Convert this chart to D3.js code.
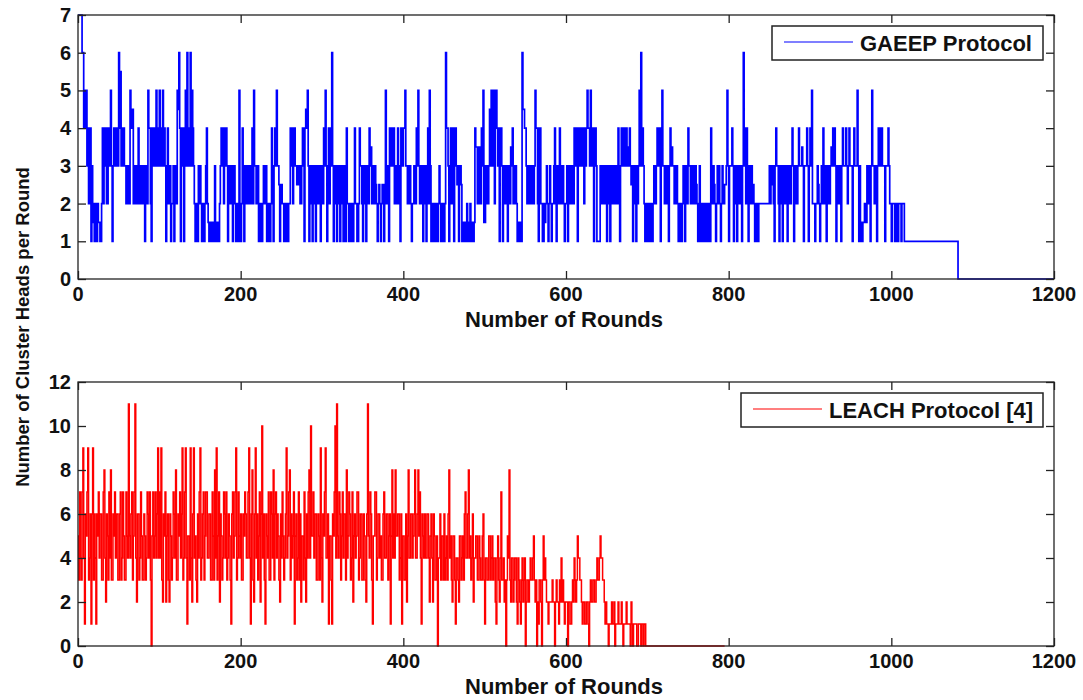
<!DOCTYPE html>
<html>
<head>
<meta charset="utf-8">
<script src="https://cdn.jsdelivr.net/npm/d3@7"></script>
<style>
  html, body { margin: 0; padding: 0; background: #fff; }
  svg text { font-family: "Liberation Sans", Arial, sans-serif; font-weight: bold; fill: #111; }
</style>
</head>
<body>
<svg id="chart" width="1083" height="700"></svg>
<script>
// Cluster heads per round. Each protocol is stored as two arrays:
// the even rounds (0, 2, 4, ...) and the odd rounds (1, 3, 5, ...).

// GAEEP protocol, rounds 0 .. 1015
const gaeepEvenRounds = [
  7,7,7,6,4,5,4,2,1,2,1,1.5,2,1.5,1,4,3,4,2,3,5,1,4,3,4,
  6,5.5,3,4,3,2,3,5,4,2,3,2,4,3,2,3,1,3,5,4,1,4,3,5,4,
  5,3,5,4,1,4,2,1,2,1,3,5,6,1,4,1,5,6,3,6,5,3,1,2,3,
  3,1,2,2,4,1.5,1,1.5,1,3,1,1.5,2,4,4,3,4,1,3,2,1,3,1,2,5,
  1,4,1,2,3,2,3,4,5,3,2,1,2,1,3,2,1,2,1,4,1,4,5,3,1,
  2.5,2,1,2,1,2,4,2,4,3,2.5,3,2,4,1,4.5,5,1,3,1,3,1,3,2,1,
  3,4,5,1,4,4,6,1,3,1,2,1,3,1,2,4,2,1,2,1,4,2,1,4,3,
  1,3,1,3,4,3.5,3,2,2.5,1,2.5,1,2.5,1,5,2,1,3,4,4,3,2,3,1,4,
  4,5,3,2,3,1,2,3,4,5,2,3,1,2,1,4,5,1,2,1,2,1,3,1,2,
  1,6,4,1,4,3,1,4,2.5,1,3,1,1.5,1,2,1,2,1.5,1,4,3.5,2,3.5,4,5,
  1.5,3,2,4.5,5,3,2,5,3,1,4,1,3,2,1,3,3.5,4,2,3,1,1,1.5,6,4.5,
  4,2,3,2,3,2,5,4,1,4,2,1,1.5,3,1,3,1,2,4,1,3,4,2,3,1,
  2,1,3,2,3,4,4,1,4,3,4,2,3,5,4,5,3,1,4,1,1,3,2,3,2,
  1,3,1,2,3,2,3,4,1,4,4,3,4,3.5,4,2.5,1,3,1,2,5,6,4,2,1,
  2,1,2,1,3,2,4,3,1,5,3,2,3,1,4,3.5,3,2,3,1,2,1,3,1,3,
  4,3,2,3,2,2.5,1,3,1,2,1,2,1,2,4,2,2.5,1,3,3,1,3,2,2.5,5,
  1,3,4,1,3,1,3,2,1,6,3,4,1,2,3,2.5,1,2,1,2,2,2,2,2,2,
  3,2.5,3,1,4,3,1,2,1,3,2,1,3,2,4,1,3,2,4,3,3.5,1,3,4,1,
  4,5,2,1,2,2.5,1,3,4,2,1,3,2,3.5,4,4,1,2,3,1,4,3,4,2,4,
  3,1,4,3,5,1,1.5,1,1.5,2,3,2,1,5,3,2,1,4,3,4,3,1,3,4,2,
  1,2,1,2,1,2,1,2
];
const gaeepOddRounds = [
  7,7,6,4,5,3,2,4,3,1.5,2,1,1.5,1,2,2,4,2,4,4,3,3,3,4,3,
  4,3,4,3,2,3,2,4,4.5,3,2,3,2,2,3,2,3,2,4,2,4,3,4,3,3,
  3,4,3,3,2,2,3,2,3,2,2,4.5,4,3,3,4,3,4,4,3,4,2,2,1,2,
  2,2,1,3,2,1,1.5,1,1.5,1,1.5,1,3,3,2,4,3,3,2,3,3,2,2,1,2,
  2,2,3,3,2,3,2,2,3,2,3,2,1,2,2,3,2,1,2,3,3,3,3,2.5,2.5,
  2,1,2,1,2,4,3,4,3,2.5,3,2,3,3,4,4,3,3,2,3,2,3,2,3,3,
  2,3,3,3,2,3,3,3,2,3,3,2,2,3,1,2,1,2,1,2,2,1,2,3,2,
  3,2,3,2,3,2,2,3,2,2,2,2,2,2.5,2,3,4,4,3,2,2,4,2,4,3,
  4,3,2,3,2,2,3,2,3,3,3,2,3,3,3,2,3,2,1,2,1,2,2,2,1,
  2,4,3,3,2,4,3,3,3,2.5,2.5,1.5,1,1.5,1,1.5,1,1,1.5,3.5,2,3.5,2,3,1.5,
  3,2,3,3,4,5,5,4,4,3,3,3,2,3,3,2,3,2,3,2,1.5,1.5,1,4.5,4,
  3,3,2,3,2,3,4,2,4,2,1,2,2,2,2,2,2,3,2,3,2,3,3,2,2,
  3,2,2,3,2,3,3,4,3,4,3,4,4,4,3,4,4,3,3,1,1,2,3,2,3,
  2,2,3,3,2,3,2,3,3,3,3,4,3,3,3,3,3,2,3,3,3,3,3,1,2,
  1,2,1,2,2,3,3,4,3,3,2,3,2,3,3,3,2,3,2,2,1,2,2,3,2,
  3,2,3,2,3,2,2,1,2,1,2,1,2,1,2,3,2,2,2,2,2,2,2.5,3,3,
  3,3,3,3,2,3,2,3,3,4,2,3,3,3,2,2,2,1,2,2,2,2,2,2,2,
  2,3,2,3,3,2,3,3,2,2,3,3,2,3,3,3,2,3,3,3,3,3,3,3,3,
  3,2,2,2,3,2,2,2,3,3,2,2,3,3,3,3,3,3,2,3,3,3,3,3,3,
  3,3,3,3,3,3,1,1.5,2,1.5,2,3,3,3,2,3,3,3,4,3,3,3,3,3,2,
  2,2,2,1,2,2,2,2
];
// Last surviving cluster head, then none
const gaeepTailRounds = [1016, 1082, 1200];
const gaeepTailHeads  = [1, 0, 0];

// LEACH protocol, rounds 0 .. 699
const leachEvenRounds = [
  5,7,3,9,1,5,9,4,1,9,6,1,5,4,6,3,8,2,5,7,8,3,5,4,6,
  3,7,4,5,3,5,11,4,7,5,11,2,6,4,5,3,5,4,6,7,0,7,5,4,9,
  7,9,2,5,2,6,2,5,4,6,8,3,5,4,9,4,9,1,5,9,2,9,5,2,4,
  9,4,7,5,7,4,6,3,5,8,9,5,2,5,4,6,7,4,5,1,7,5,9,4,5,
  6,3,5,6,4,9,1,8,2,9,6,5,2,10,6,1,5,7,3,6,8,6,4,5,2,
  4,5,4,9,5,8,6,5,1,6,4,3,2,5,7,2,4,8,10,5,4,6,3,5,9,
  2,5,9,4,1,5,1,5,10,11,4,6,5,4,6,8,5,6,4,2,6,5,7,4,6,
  3,5,2,11,4,6,1,5,7,4,6,5,3,7,4,6,5,1,8,6,8,5,6,4,1,
  5,3,2,8,4,6,5,8,4,8,7,1,5,6,4,6,2,6,2,5,3,0,4,3,5,
  6,4,3,8,5,2,5,1,4,2,5,4,3,7,4,8,5,4,2,4,5,3,4,3,6,
  1,4,3,5,4,3,4,1,5,2,7,3,2,0,5,8,2,4,3,4,1,3,1,4,3,
  0,3,2,4,3,5,2,0,1,3,0,5,4,2,1,2,2,2,0,3,2,3,4,3,1,
  2,0,2,1,3,4,2,5,4,3,1,2,1,2,0,3,2,3,2,4,3,5,4,3,1,
  1,0,1,2,1,0,1,2,1,2,0,1,2,1,1,2,0,1,1,0,1,0,1,1,0
];
const leachOddRounds = [
  3,4,7,4,6,7,3,6,6,3,4,6,7,6,3,7,4,6,3,4,3,6,7,6,3,
  6,3,7,3,7,4,5,6,3,7,4,6,3,7,3,6,3,7,4,3,5,4,7,6,4,
  4,3,6,7,5,3,6,3,7,4,3,6,7,6,3,7,4,5,3,4,6,4,3,6,7,
  3,6,3,7,4,6,3,7,3,4,3,7,6,3,7,4,3,6,3,6,4,7,3,7,4,
  3,6,7,4,7,4,6,3,6,4,3,7,6,4,3,6,4,3,7,4,3,7,6,3,6,
  7,3,6,4,7,3,4,7,5,3,7,6,5,3,4,6,7,4,5,7,6,3,6,3,4,
  6,7,4,6,5,3,6,7,4,5,7,3,7,6,3,4,7,3,7,5,4,7,3,6,3,
  6,3,6,5,7,3,5,7,3,6,4,3,6,4,6,3,6,5,4,4,5,6,3,6,5,
  3,6,5,4,6,4,6,4,6,5,4,6,4,4,6,4,5,4,6,3,5,4,6,5,3,
  3,5,6,4,3,5,3,4,3,5,3,5,6,4,6,4,3,6,4,5,3,5,3,5,3,
  4,3,5,3,5,4,2,4,3,4,3,4,3,3,4,3,4,2,4,2,4,2,3,2,4,
  2,3,3,3,4,3,3,2,3,2,3,3,3,2,2,2,3,2,2,2,1,2,2,2,2,
  2,2,1,2,2,3,3,4,3,2,2,1,2,1,2,2,3,2,3,3,4,4,3,2,2,
  1,1,1,1,2,1,1,1,1,1,1,1,1,1,0,1,1,1,0,1,1,1,0,1,0
];
const leachTailRounds = [700, 795];
const leachTailHeads  = [0, 0];

const xTicks = [0, 200, 400, 600, 800, 1000, 1200];
const gaeepYTicks = [0, 1, 2, 3, 4, 5, 6, 7];
const leachYTicks = [0, 2, 4, 6, 8, 10, 12];

const svg = d3.select("#chart");
svg.append("rect").attr("width", 1083).attr("height", 700).attr("fill", "#fff");

const left = 78, right = 1054;

// merge even/odd rounds into one per-round series, then append the tail
function toPoints(even, odd, tailRounds, tailValues) {
  const pts = [];
  even.forEach((v, i) => {
    pts.push({ r: 2 * i, v });
    if (i < odd.length) pts.push({ r: 2 * i + 1, v: odd[i] });
  });
  tailRounds.forEach((r, i) => pts.push({ r, v: tailValues[i] }));
  return pts;
}

function panel(cfg) {
  const x = d3.scaleLinear().domain([0, 1200]).range([left, right]);
  const y = d3.scaleLinear().domain(cfg.yDomain).range([cfg.bottom, cfg.top]);
  const g = svg.append("g");
  const tick = 8;

  // data line
  const line = d3.line().x(d => x(d.r)).y(d => y(d.v)).curve(d3.curveStepAfter);
  g.append("path")
    .datum(toPoints(cfg.even, cfg.odd, cfg.tailRounds, cfg.tailValues))
    .attr("d", line)
    .attr("fill", "none")
    .attr("stroke", cfg.color)
    .attr("stroke-width", cfg.lineWidth);

  // inward ticks on all four sides
  const bottomAxis = d3.axisBottom(x).tickValues(xTicks).tickSizeInner(-tick).tickSizeOuter(0).tickFormat("");
  const topAxis = d3.axisTop(x).tickValues(xTicks).tickSizeInner(-tick).tickSizeOuter(0).tickFormat("");
  const leftAxis = d3.axisLeft(y).tickValues(cfg.yTicks).tickSizeInner(-tick).tickSizeOuter(0).tickFormat("");
  const rightAxis = d3.axisRight(y).tickValues(cfg.yTicks).tickSizeInner(-tick).tickSizeOuter(0).tickFormat("");
  [[bottomAxis, `translate(0,${cfg.bottom})`], [topAxis, `translate(0,${cfg.top})`],
   [leftAxis, `translate(${left},0)`], [rightAxis, `translate(${right},0)`]].forEach(([ax, tr]) => {
    const a = g.append("g").attr("transform", tr).call(ax);
    a.select(".domain").remove();
    a.selectAll("line").attr("stroke", "#222").attr("stroke-width", 1.3);
  });

  // box
  g.append("rect")
    .attr("x", left).attr("y", cfg.top)
    .attr("width", right - left).attr("height", cfg.bottom - cfg.top)
    .attr("fill", "none").attr("stroke", "#222").attr("stroke-width", 1.3);

  // tick labels
  g.selectAll(".xl").data(xTicks).enter().append("text")
    .attr("x", d => x(d)).attr("y", cfg.bottom + 22)
    .attr("text-anchor", "middle").attr("font-size", 20)
    .text(d => d);
  g.selectAll(".yl").data(cfg.yTicks).enter().append("text")
    .attr("x", 71).attr("y", d => y(d) + 7)
    .attr("text-anchor", "end").attr("font-size", 20)
    .text(d => d);

  // axis title
  g.append("text")
    .attr("x", 564).attr("y", cfg.bottom + 48)
    .attr("text-anchor", "middle").attr("font-size", 22)
    .text("Number of Rounds");

  // legend
  const L = cfg.legend;
  g.append("rect").attr("x", L.x).attr("y", L.y).attr("width", L.w).attr("height", 34)
    .attr("fill", "#fff").attr("stroke", "#222").attr("stroke-width", 1.5);
  g.append("line").attr("x1", L.x + 12).attr("x2", L.x + 81)
    .attr("y1", L.y + 16).attr("y2", L.y + 16)
    .attr("stroke", cfg.color).attr("stroke-width", 1.2);
  g.append("text").attr("x", L.x + 88).attr("y", L.y + 25)
    .attr("font-size", 22).text(L.label);
}

panel({
  even: gaeepEvenRounds, odd: gaeepOddRounds,
  tailRounds: gaeepTailRounds, tailValues: gaeepTailHeads,
  yDomain: [0, 7], yTicks: gaeepYTicks, top: 15, bottom: 279, color: "#0000ff",
  lineWidth: 1.7,
  legend: { x: 772, y: 26, w: 271, label: "GAEEP Protocol" }
});

panel({
  even: leachEvenRounds, odd: leachOddRounds,
  tailRounds: leachTailRounds, tailValues: leachTailHeads,
  yDomain: [0, 12], yTicks: leachYTicks, top: 382, bottom: 646, color: "#ff0000",
  lineWidth: 1.5,
  legend: { x: 741, y: 393, w: 302, label: "LEACH Protocol [4]" }
});

// shared y-axis title
svg.append("text")
  .attr("transform", "translate(29,327) rotate(-90)")
  .attr("text-anchor", "middle").attr("font-size", 18.5)
  .text("Number of Cluster Heads per Round");
</script>
</body>
</html>
